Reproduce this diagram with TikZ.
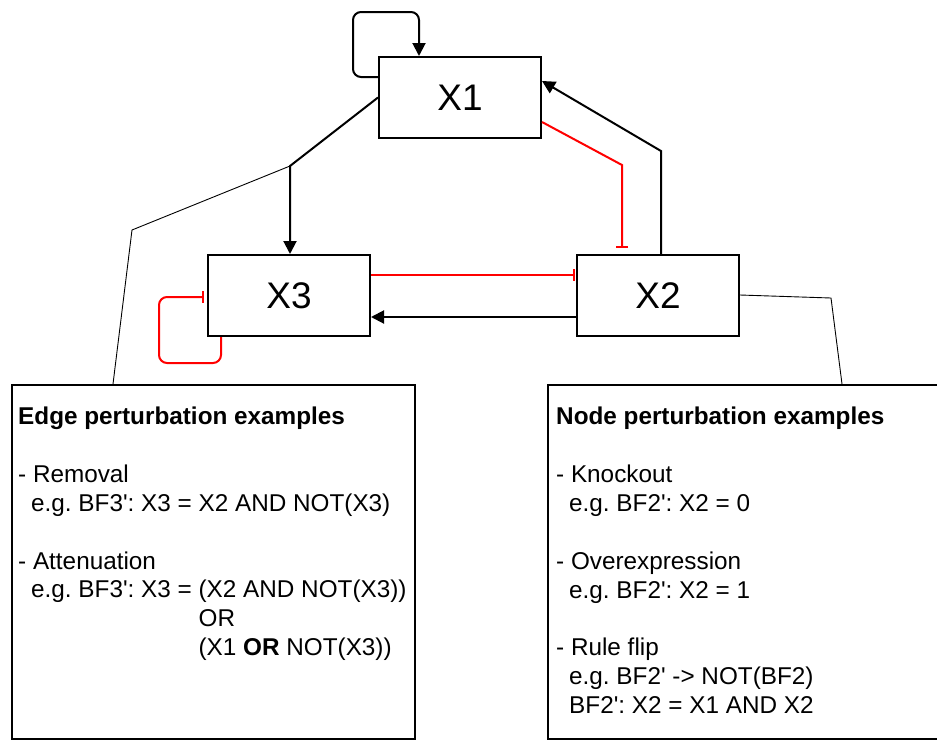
\documentclass[tikz,border=0pt]{standalone}
\usepackage{fontspec}
\setmainfont{Liberation Sans}[Ligatures=TeXOff]
\frenchspacing
\usetikzlibrary{arrows.meta}
\begin{document}
\begin{tikzpicture}[x=1pt,y=-1pt,
  gene/.style={draw,line width=2pt,minimum width=162pt,minimum height=81pt,inner sep=0pt,font=\fontsize{37}{40}\selectfont},
  panel/.style={draw,line width=2pt,inner sep=0pt},
  act/.style={line width=2pt,-{Triangle[length=13pt,width=13pt]},rounded corners=8pt},
  inh/.style={line width=2pt,draw=red,-{Bar[width=12pt,line width=2pt]},rounded corners=8pt},
  callout/.style={line width=0.9pt},
  txt/.style={anchor=base west,inner sep=0pt,font=\fontsize{24.3}{28}\selectfont},
  head/.style={txt,font=\fontsize{24.3}{28}\selectfont\bfseries}]
\useasboundingbox (0,0) rectangle (937,742);

% genes
\node[gene] (X1) at (460,97.5) {X1};
\node[gene] (X3) at (289,295.5) {X3};
\node[gene] (X2) at (658,295.5) {X2};

% example panels
\node[panel,minimum width=403pt,minimum height=354pt] (edgebox) at (213.5,562) {};
\node[panel,minimum width=410pt,minimum height=354pt] (nodebox) at (753,562) {};

% interactions
\draw[act] ([yshift=20.5pt]X1.west) -- (353,77) -- (353,12) -- (419,12) -- (X1.north -| 419,0);
\coordinate (split) at (290,166);
\draw[act,rounded corners=0pt] (X1.west) -- (split) -- (split |- X3.north);
\draw[act,rounded corners=0pt] ([xshift=3pt]X2.north) -- (661,151) -- ([yshift=16.5pt]X1.east);
\draw[inh,rounded corners=0pt] ([yshift=-24.5pt]X1.east) -- (622,165) -- ([yshift=6pt]X2.north -| 622,0);
\draw[inh,shorten >=-1pt] ([yshift=20.5pt]X3.east) -- ([yshift=20.5pt,xshift=-2pt]X2.west);
\draw[act] ([yshift=-21.5pt]X2.west) -- ([yshift=-21.5pt]X3.east);
\draw[inh] ([xshift=-68pt]X3.south) -- (221,363) -- (159,363) -- (159,297) -- ([yshift=-1.5pt,xshift=-3pt]X3.west);

% callout lines
\draw[callout] (split) -- (132,230) -- (edgebox.north -| 113,0);
\draw[callout] ([yshift=0.5pt]X2.east) -- (831,298) -- (nodebox.north -| 842,0);

% edge perturbation text
\node[head] (eh) at (18,424) {Edge perturbation examples};
\node[txt] (e1) at (18,482) {- Removal};
\node[txt] (e2) at (18,511) {\hspace{13pt}e.g. BF3': X3 = X2 AND NOT(X3)};
\node[txt] (e3) at (18,569) {- Attenuation};
\node[txt] (e4) at (18,597) {\hspace{13pt}e.g. BF3': X3 = (X2 AND NOT(X3))};
\node[txt] (e5) at (18,626) {\hspace{13pt}\phantom{e.g. BF3': X3 = }OR};
\node[txt] (e6) at (18,655) {\hspace{13pt}\phantom{e.g. BF3': X3 = }(X1 \textbf{OR} NOT(X3))};

% node perturbation text
\node[head] (nh) at (556,424) {Node perturbation examples};
\node[txt] (n1) at (556,482) {- Knockout};
\node[txt] (n2) at (556,511) {\hspace{13pt}e.g. BF2': X2 = 0};
\node[txt] (n3) at (556,569) {- Overexpression};
\node[txt] (n4) at (556,598) {\hspace{13pt}e.g. BF2': X2 = 1};
\node[txt] (n5) at (556,655) {- Rule flip};
\node[txt] (n6) at (556,684) {\hspace{13pt}e.g. BF2' -> NOT(BF2)};
\node[txt] (n7) at (556,713) {\hspace{13pt}BF2': X2 = X1 AND X2};
\end{tikzpicture}
\end{document}
